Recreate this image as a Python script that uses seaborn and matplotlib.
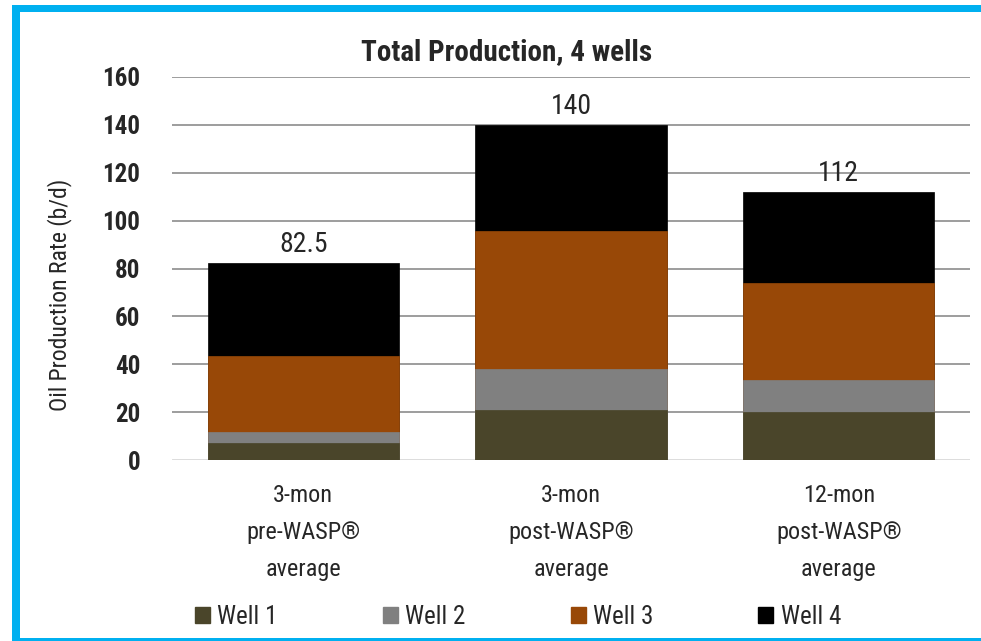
import matplotlib
matplotlib.use("Agg")
import matplotlib.pyplot as plt
import matplotlib.patches as mpatches
import seaborn as sns
import pandas as pd
import numpy as np

categories = ["3-mon\npre-WASP®\naverage", "3-mon\npost-WASP®\naverage", "12-mon\npost-WASP®\naverage"]
well1 = [7.0, 21.0, 20.0]
well2 = [4.5, 17.0, 13.5]
well3 = [32.0, 57.5, 40.5]
well4 = [39.0, 44.5, 38.0]
total_labels = ["82.5", "140", "112"]
series_names = ["Well 1", "Well 2", "Well 3", "Well 4"]
colors = ["#4A452A", "#808080", "#984807", "#000000"]

sns.set_theme(style="white")
FONT = ["Roboto Condensed", "Liberation Sans", "DejaVu Sans"]
plt.rcParams["font.family"] = FONT

fig = plt.figure(figsize=(9.81, 6.41), dpi=100)
ax = fig.add_axes([172/981, 1-460/641, (970-172)/981, (460-77)/641])

series = [well1, well2, well3, well4]
cum = np.cumsum(np.array(series), axis=0)
df = pd.DataFrame({"cat": categories})
for i in range(3, -1, -1):
    df["v"] = cum[i]
    sns.barplot(data=df, x="cat", y="v", color=colors[i], width=0.714,
                saturation=1, ax=ax, zorder=3, edgecolor=colors[i], linewidth=0.5)

ax.set_ylim(0, 160)
ax.set_xlim(-0.49, 2.49)
ax.set_yticks(range(0, 161, 20))
for yv in range(20, 161, 20):
    ax.axhline(yv, color="#8C8C8C", lw=1.2, zorder=1)
ax.axhline(0, color="#D9D9D9", lw=2, zorder=1)
for s in ax.spines.values():
    s.set_visible(False)
ax.tick_params(axis="both", length=0)
ax.tick_params(axis="y", pad=23, labelsize=18)
ax.tick_params(axis="x", pad=17, labelsize=17.5)
for lbl in ax.get_xticklabels():
    lbl.set_linespacing(1.8)
ax.set_xlabel("")
ax.set_ylabel("Oil Production Rate (b/d)", fontsize=17)
ax.yaxis.set_label_coords(-0.125, 0.43)
for lbl in ax.get_yticklabels():
    lbl.set_fontweight("bold")

totals = cum[3]
for xi, (t, lab) in enumerate(zip(totals, total_labels)):
    ax.text(xi, t + 2, lab, ha="center", va="bottom", fontsize=20, zorder=4)

fig.text(507/981, 1-52/641, "Total Production, 4 wells", ha="center", va="center",
         fontsize=21, fontweight="bold")

handles = [mpatches.Patch(color=c, label=n) for c, n in zip(colors, series_names)]
fig.legend(handles=handles, loc="center", bbox_to_anchor=(518/981, 1-617/641), ncol=4,
           frameon=False, fontsize=18, handlelength=0.6, handleheight=0.6,
           handletextpad=0.3, columnspacing=4.2)

blue = "#00B0F0"
fig.add_artist(mpatches.Rectangle((12/981, 0), 8/981, 1-5/641, transform=fig.transFigure, color=blue, lw=0))
fig.add_artist(mpatches.Rectangle((12/981, 1-12/641), 1, 7/641, transform=fig.transFigure, color=blue, lw=0))
fig.add_artist(mpatches.Rectangle((12/981, 0), 1, 3/641, transform=fig.transFigure, color=blue, lw=0))

fig.savefig("out.png", dpi=100)
